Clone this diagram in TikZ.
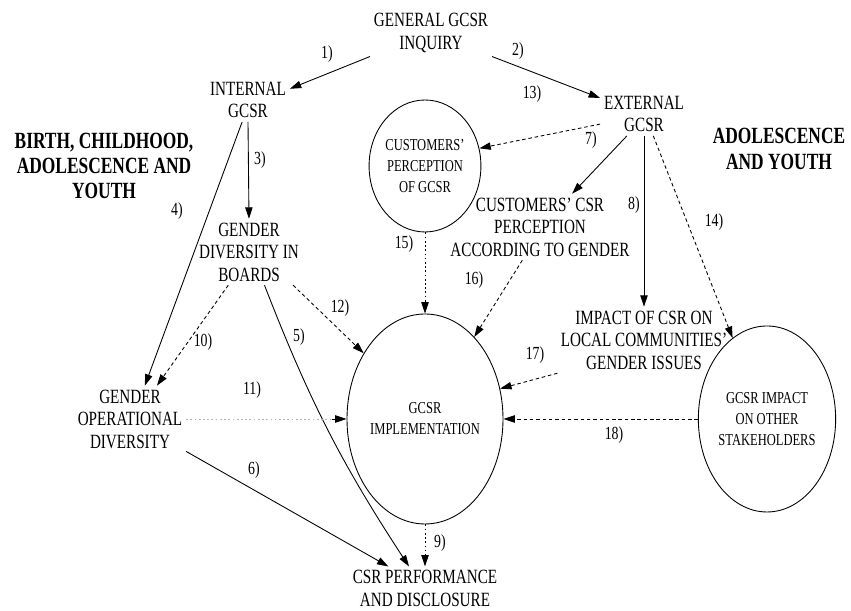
\documentclass[tikz,border=0pt]{standalone}
\usepackage{fontspec}
\setmainfont{Liberation Serif}[FakeStretch=0.75]
\usepackage{tikz}
\usetikzlibrary{arrows.meta}
\usetikzlibrary{shapes.geometric, positioning, calc}

\begin{document}
\begin{tikzpicture}[>={Triangle[length=6.5pt,width=4.2pt]}, line width=0.5pt,
    txt/.style={align=center, inner sep=2pt, font=\fontsize{11.5}{12.8}\selectfont},
    head/.style={align=center, inner sep=0pt, font=\bfseries\fontsize{13.2}{14.4}\selectfont},
    oval/.style={draw, ellipse, inner sep=0pt, align=center, font=\fontsize{9.5}{12}\selectfont},
    num/.style={inner sep=0pt, font=\fontsize{10.5}{12}\selectfont},
    dashes/.style={dash pattern=on 2pt off 1.6pt},
    dots/.style={dash pattern=on 1pt off 1.4pt},
    faint/.style={dash pattern=on 1pt off 1.4pt, draw=black!30}]
      \useasboundingbox (0, 0) rectangle (17.02, 12.22);

      % text nodes
      \node[txt] (general) at (8.62, 11.56) {GENERAL GCSR\\INQUIRY};
      \node[txt] (internal) at (4.96, 10.22) {INTERNAL\\GCSR};
      \node[txt] (external) at (12.88, 9.94) {EXTERNAL\\GCSR};
      \node[txt] (custcsr) at (10.80, 7.68) {CUSTOMERS' CSR\\PERCEPTION\\ACCORDING TO GENDER};
      \node[txt] (boards) at (4.98, 7.18) {GENDER\\DIVERSITY IN\\BOARDS};
      \node[txt] (operational) at (2.60, 3.84) {GENDER\\OPERATIONAL\\DIVERSITY};
      \node[txt] (community) at (12.88, 5.42) {IMPACT OF CSR ON\\LOCAL COMMUNITIES'\\GENDER ISSUES};
      \node[txt] (perf) at (8.50, 0.45) {CSR PERFORMANCE\\AND DISCLOSURE};

      % ellipses
      \node[oval, minimum width=2.08cm, minimum height=2.64cm] (custperc) at (8.50, 8.90) {CUSTOMERS'\\PERCEPTION\\OF GCSR};
      \node[oval, minimum width=3.12cm, minimum height=4.20cm] (impl) at (8.50, 3.84) {GCSR\\IMPLEMENTATION};
      \node[oval, minimum width=2.68cm, minimum height=3.72cm] (stake) at (15.34, 3.84) {GCSR IMPACT\\ON OTHER\\STAKEHOLDERS};

      % stages
      \node[head] (birth) at (2.08, 8.90) {BIRTH, CHILDHOOD,\\ADOLESCENCE AND\\YOUTH};
      \node[head] (adolescence) at (15.58, 9.24) {ADOLESCENCE\\AND YOUTH};

      % numbers
      \foreach \n/\x/\y in {1/6.54/11.14, 2/10.36/11.20, 13/10.64/10.34, 3/5.20/9.02,
          4/3.54/8.00, 7/11.82/9.42, 8/12.68/8.12, 14/14.28/7.78, 15/8.08/7.34,
          16/9.48/6.62, 12/6.80/6.06, 5/5.98/5.48, 10/4.06/5.38, 11/5.04/4.42,
          6/5.08/2.82, 17/10.70/5.12, 18/12.28/3.52, 9/8.80/1.36}
        \node[num] (l\n) at (\x, \y) {\n)};

      % solid links
      \draw[->] (general.south west) -- (internal.15);
      \draw[->] (general.south east) -- (external.160);
      \draw[->] (internal.south) -- (boards.north);
      \draw[->] (internal.255) -- (operational.66);
      \draw[->] (boards.-65) to[bend right=6] (perf.126);
      \draw[->] (operational.-30) -- (perf.149);
      \draw[->] (external.232) -- (custcsr.46);
      \draw[->] (external.south) -- (community.north);

      % dashed and dotted links
      \draw[->, dashes] (boards.238) -- (operational.51);
      \draw[->, dashes] (boards.-37) -- (impl.133);
      \draw[faint] (operational.east) -- ($(impl.west)+(-0.3, 0)$);
      \draw[->] ($(impl.west)+(-0.3, 0)$) -- (impl.west);
      \draw[->, dots] (impl.south) -- (perf.north);
      \draw[->, dots] (custperc.south) -- (impl.north);
      \draw[->, dashes] (external.193) -- (custperc.18);
      \draw[->, dashes] (external.-67) -- (stake.113);
      \draw[->, dashes] (custcsr.242) -- (impl.59);
      \draw[->, dashes] (community.201) -- (impl.22);
      \draw[->, dashes] (stake.west) -- (impl.east);
\end{tikzpicture}
\end{document}
